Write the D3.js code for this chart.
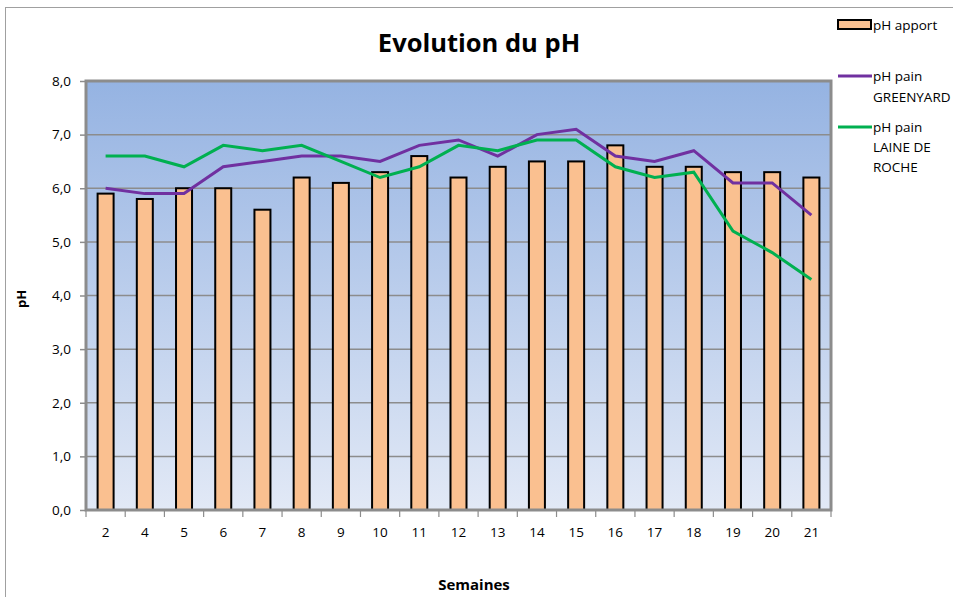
<!DOCTYPE html>
<html><head><meta charset="utf-8">
<script src="https://cdn.jsdelivr.net/npm/d3@7"></script>
<style>body{margin:0;background:#fff}svg{display:block}text{font-family:"Open Sans","Noto Sans",sans-serif}</style>
</head><body>
<svg id="c" width="953" height="597"></svg>
<script>
const weeks = ["2","4","5","6","7","8","9","10","11","12","13","14","15","16","17","18","19","20","21"];
const apport = [5.9,5.8,6.0,6.0,5.6,6.2,6.1,6.3,6.6,6.2,6.4,6.5,6.5,6.8,6.4,6.4,6.3,6.3,6.2];
const greenyard = [6.0,5.9,5.9,6.4,6.5,6.6,6.6,6.5,6.8,6.9,6.6,7.0,7.1,6.6,6.5,6.7,6.1,6.1,5.5];
const laine = [6.6,6.6,6.4,6.8,6.7,6.8,6.5,6.2,6.4,6.8,6.7,6.9,6.9,6.4,6.2,6.3,5.2,4.8,4.3];
const yTicks = [0,1,2,3,4,5,6,7,8];

const svg = d3.select("#c");
const L = 86, R = 831, T = 81, B = 510;
const x = d3.scaleBand().domain(weeks).range([L, R]).paddingInner(0).paddingOuter(0);
const y = d3.scaleLinear().domain([0, 8]).range([B, T]);
const fmt = d => d.toFixed(1).replace(".", ",");

// outer chart border
svg.append("rect").attr("x",5.5).attr("y",7.5).attr("width",960).attr("height",600)
  .attr("fill","none").attr("stroke","#a0a0a0").attr("stroke-width",1);

const defs = svg.append("defs");
const g = defs.append("linearGradient").attr("id","bg").attr("x1",0).attr("y1",0).attr("x2",0).attr("y2",1);
g.append("stop").attr("offset","0%").attr("stop-color","#95b3e2");
g.append("stop").attr("offset","100%").attr("stop-color","#e2e9f6");

svg.append("rect").attr("x",L).attr("y",T).attr("width",R-L).attr("height",B-T).attr("fill","url(#bg)");

// gridlines
svg.append("g").selectAll("line").data(yTicks.slice(1,-1)).join("line")
  .attr("x1",L).attr("x2",R).attr("y1",d=>y(d)).attr("y2",d=>y(d))
  .attr("stroke","#8c8c8c").attr("stroke-width",1.5);

// y axis
const ya = svg.append("g").attr("transform",`translate(${L},0)`)
  .call(d3.axisLeft(y).tickValues(yTicks).tickFormat(fmt).tickSize(6).tickPadding(6));
ya.select(".domain").remove();
ya.selectAll("line").attr("stroke","#8c8c8c").attr("stroke-width",1.5);
ya.selectAll("text").attr("font-size",13.5).attr("fill","#000").attr("dx",-3);

// x axis
const xa = svg.append("g").attr("transform",`translate(0,${B})`)
  .call(d3.axisBottom(x).tickSize(0).tickPadding(17));
xa.select(".domain").remove();
xa.selectAll("text").attr("font-size",13.5).attr("fill","#000");
const bounds = weeks.map(w => x(w)).concat([R]);
svg.append("g").selectAll("line").data(bounds).join("line")
  .attr("x1",d=>d).attr("x2",d=>d).attr("y1",B).attr("y2",B+7)
  .attr("stroke","#8c8c8c").attr("stroke-width",1.2);

// bars
const bw = 16;
svg.append("g").selectAll("rect").data(apport).join("rect")
  .attr("x",(d,i)=>x(weeks[i])+x.bandwidth()/2-bw/2)
  .attr("y",d=>y(d)).attr("width",bw).attr("height",d=>B-y(d))
  .attr("fill","#fac090").attr("stroke","#000").attr("stroke-width",2);

// plot border
svg.append("rect").attr("x",L).attr("y",T).attr("width",R-L).attr("height",B-T)
  .attr("fill","none").attr("stroke","#8c8c8c").attr("stroke-width",3);

// lines
const line = d3.line().x((d,i)=>x(weeks[i])+x.bandwidth()/2).y(d=>y(d));
svg.append("path").datum(greenyard).attr("d",line).attr("fill","none")
  .attr("stroke","#7030a0").attr("stroke-width",3);
svg.append("path").datum(laine).attr("d",line).attr("fill","none")
  .attr("stroke","#00b050").attr("stroke-width",3);

// title
svg.append("text").attr("x",479).attr("y",52).attr("text-anchor","middle")
  .attr("font-size",25.5).attr("font-weight","bold").text("Evolution du pH");
svg.append("text").attr("transform","translate(26,299) rotate(-90)").attr("text-anchor","middle")
  .attr("font-size",13).attr("font-weight","bold").text("pH");
svg.append("text").attr("x",474).attr("y",590).attr("text-anchor","middle")
  .attr("font-size",15).attr("font-weight","bold").text("Semaines");

// legend
const lg = svg.append("g").attr("font-size",13.5);
lg.append("rect").attr("x",838).attr("y",20).attr("width",33).attr("height",9)
  .attr("fill","#fac090").attr("stroke","#000").attr("stroke-width",2);
lg.append("text").attr("x",873).attr("y",30).text("pH apport");
lg.append("line").attr("x1",838).attr("x2",872).attr("y1",76).attr("y2",76).attr("stroke","#7030a0").attr("stroke-width",3);
lg.append("text").attr("x",873).attr("y",81).text("pH pain");
lg.append("text").attr("x",873).attr("y",102).text("GREENYARD");
lg.append("line").attr("x1",838).attr("x2",872).attr("y1",127).attr("y2",127).attr("stroke","#00b050").attr("stroke-width",3);
lg.append("text").attr("x",873).attr("y",132).text("pH pain");
lg.append("text").attr("x",873).attr("y",152).text("LAINE DE");
lg.append("text").attr("x",873).attr("y",172).text("ROCHE");
</script>
</body></html>
